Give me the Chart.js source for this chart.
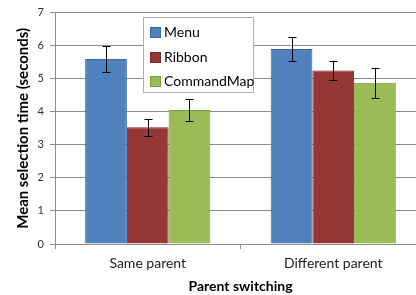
<!DOCTYPE html>
<html>
<head>
<meta charset="utf-8">
<script src="https://cdn.jsdelivr.net/npm/chart.js@4.4.1/dist/chart.umd.min.js"></script>
<style>
  html, body { margin: 0; padding: 0; background: #fff; overflow: hidden; }
  #wrap { position: relative; width: 416px; height: 295px; overflow: hidden; }
  #chart { position: absolute; left: 0; top: 0; }
  #legend {
    position: absolute; left: 143px; top: 17px; width: 111px; height: 76px;
    background: #fff; border: 1px solid #b0b0b0; box-sizing: border-box;
    font-family: Lato, "Open Sans", sans-serif; font-size: 14px; color: #000;
  }
  #legend div { position: absolute; left: 6px; height: 16px; line-height: 16px; white-space: nowrap; }
  #legend span.sw { display: inline-block; width: 9px; height: 9px; margin-right: 3px; vertical-align: -1px; }
</style>
</head>
<body>
<div id="wrap">
  <canvas id="chart" width="428" height="295"></canvas>
  <div id="legend"></div>
</div>
<script>
// Parent switching experiment - mean selection times

const categories = ["Same parent", "Different parent"];
const seriesNames = ["Menu", "Ribbon", "CommandMap"];
const menuMeans = [5.6, 5.9];
const ribbonMeans = [3.53, 5.25];
const cmdMapMeans = [4.05, 4.88];
const menuErr = [0.39, 0.35];
const ribbonErr = [0.25, 0.29];
const cmdMapErr = [0.33, 0.45];
const yTicks = [0, 1, 2, 3, 4, 5, 6, 7];

const fills = ["#4f81bd", "#953735", "#9bbb59"];
const borders = ["#3c679a", "#7a2a29", "#7e9c3e"];

const means = [menuMeans, ribbonMeans, cmdMapMeans];
const errs = [menuErr, ribbonErr, cmdMapErr];

// legend (html)
const legend = document.getElementById("legend");
seriesNames.forEach((name, i) => {
    const d = document.createElement("div");
    d.style.top = (6 + i * 24.5) + "px";
    d.innerHTML = `<span class="sw" style="background:${fills[i]};border:1px solid ${borders[i]}"></span>${name}`;
    legend.appendChild(d);
});

/* ---------- Error bars ---------- */

const errorBars = {
    id: "errorBars",
    afterDatasetsDraw(chart) {
        const ctx = chart.ctx;
        const y = chart.scales.y;
        ctx.save();
        ctx.strokeStyle = "#000";
        ctx.lineWidth = 1;
        chart.data.datasets.forEach((ds, di) => {
            const meta = chart.getDatasetMeta(di);
            meta.data.forEach((bar, i) => {
                const x = Math.round(bar.x) + 0.5;
                const hi = Math.round(y.getPixelForValue(ds.data[i] + errs[di][i])) + 0.5;
                const lo = Math.round(y.getPixelForValue(ds.data[i] - errs[di][i])) + 0.5;
                ctx.beginPath();
                ctx.moveTo(x, hi); ctx.lineTo(x, lo);
                ctx.moveTo(x - 4, hi); ctx.lineTo(x + 4, hi);
                ctx.moveTo(x - 4, lo); ctx.lineTo(x + 4, lo);
                ctx.stroke();
            });
        });
        ctx.restore();
    }
};

/* ---------- Chart ---------- */

new Chart(document.getElementById("chart"), {
    type: "bar",
    data: {
        labels: categories,
        datasets: seriesNames.map((name, i) => ({
            label: name,
            data: means[i],
            backgroundColor: fills[i],
            borderColor: borders[i],
            borderWidth: 1,
            barPercentage: 1,
            categoryPercentage: 0.675
        }))
    },
    options: {
        responsive: false,
        animation: false,
        layout: { padding: { top: 11, right: 2, left: 0, bottom: 0 } },
        plugins: { legend: { display: false }, tooltip: { enabled: false } },
        scales: {
            y: {
                min: 0, max: 7,
                afterBuildTicks: s => { s.ticks = yTicks.map(v => ({ value: v })); },
                afterFit: s => { s.width = 55; },
                grid: { color: "#8c8c8c", tickLength: 5 },
                border: { color: "#8c8c8c" },
                ticks: { color: "#333", padding: 6, font: { family: "Lato", size: 11 } },
                title: {
                    display: true, text: "Mean selection time (seconds)", color: "#000",
                    font: { family: "Lato", size: 15, weight: "bold" }, padding: { top: 14, bottom: 0 }
                }
            },
            x: {
                afterFit: s => { s.height = 51; },
                grid: { drawOnChartArea: false, tickLength: 5, color: "#8c8c8c" },
                border: { color: "#8c8c8c" },
                ticks: { color: "#222", padding: 6, font: { family: "Lato", size: 14 } },
                title: {
                    display: true, text: "Parent switching", color: "#000",
                    font: { family: "Lato", size: 14, weight: "bold" }, padding: { top: 2, bottom: 0 }
                }
            }
        }
    },
    plugins: [errorBars]
});
</script>
</body>
</html>
